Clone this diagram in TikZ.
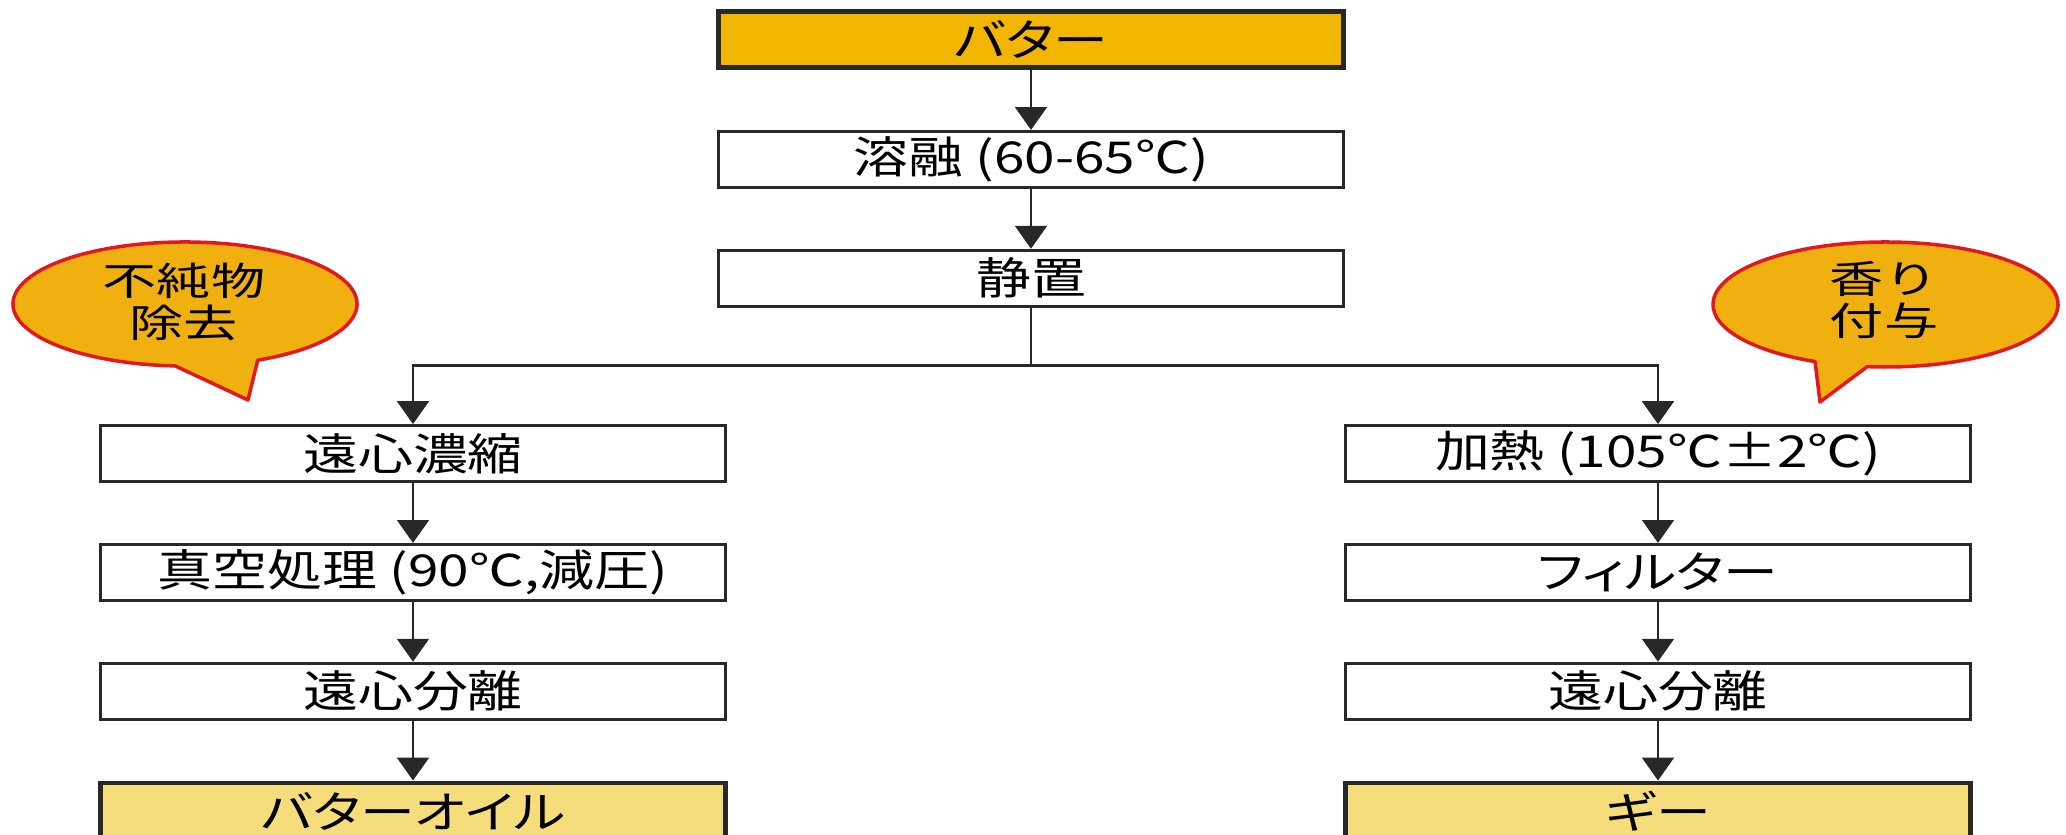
\documentclass[tikz,border=0pt]{standalone}
\usepackage{fontspec}
\setmainfont{Noto Sans CJK JP}
\newfontfamily\boxfont[FakeStretch=1.25, RawFeature=+palt]{Noto Sans CJK JP}
\newfontfamily\bubfont[FakeStretch=1.4]{Noto Sans CJK JP}
\usetikzlibrary{arrows.meta}
\usetikzlibrary{positioning}
\usetikzlibrary{chains}
\definecolor{buttergold}{RGB}{242,182,0}
\definecolor{oilyellow}{RGB}{244,221,122}
\definecolor{bubblefill}{RGB}{240,176,16}
\definecolor{bubbleedge}{RGB}{226,24,28}
\definecolor{linegray}{RGB}{40,40,40}
\tikzset{
	>={Triangle[width=9pt,length=6.5pt]},
	stepbox/.style={
		rectangle,
		draw=linegray, line width=0.8pt,
		minimum width=6.25cm,
		minimum height=0.56cm,
		inner sep=0pt,
		text centered,
		on chain},
	endbox/.style={
		stepbox,
		line width=1.4pt},
	every join/.style={->, draw=linegray, line width=0.8pt},
	arrowline/.style={->, draw=linegray, line width=0.8pt},
	bubble/.style={fill=bubblefill, draw=bubbleedge, line width=1pt, line join=round},
	bubtext/.style={align=center, font=\bubfont\fontsize{11}{12}\selectfont},
}

\begin{document}
\begin{tikzpicture}[node distance=.6cm, font=\boxfont\fontsize{12.5}{15}\selectfont]
	\useasboundingbox (0,0) rectangle (20.66,-8.35);
	% middle column
	\begin{scope}[start chain=going below]
		\node[endbox, fill=buttergold] (butter) at (10.31,-0.395) {バター};
		\node[stepbox, join] (melt) {溶融 (60-65℃)};
		\node[stepbox, join] (settle) {静置};
	\end{scope}
	% left column
	\begin{scope}[start chain=going below]
		\node[stepbox] (centrifA) at (4.13,-4.535) {遠心濃縮};
		\node[stepbox, join] (vacuum) {真空処理 (90℃,減圧)};
		\node[stepbox, join] (separA) {遠心分離};
		\node[endbox, fill=oilyellow, join] (oil) {バターオイル};
	\end{scope}
	% right column
	\begin{scope}[start chain=going below]
		\node[stepbox] (heat) at (16.58,-4.535) {加熱 (105℃±2℃)};
		\node[stepbox, join] (filter) {フィルター};
		\node[stepbox, join] (separB) {遠心分離};
		\node[endbox, fill=oilyellow, join] (ghee) {ギー};
	\end{scope}
	% branch
	\draw[linegray, line width=0.8pt] (settle.south) -- ++(0,-0.58) coordinate (split);
	\draw[arrowline] (split) -| (centrifA.north);
	\draw[arrowline] (split) -| (heat.north);
	% speech bubbles
	\draw[bubble] (1.85,-3.04) ++(295:1.72 and 0.62) arc[start angle=295, end angle=626.7, x radius=1.72, y radius=0.62] -- (2.48,-4.00) -- cycle;
	\node[bubtext] (purify) at (1.84,-3.02) {不純物\\除去};
	\draw[bubble] (18.855,-3.045) ++(263.9:1.725 and 0.625) arc[start angle=263.9, end angle=605.9, x radius=1.725, y radius=0.625] -- (18.20,-4.02) -- cycle;
	\node[bubtext] (aroma) at (18.84,-3.0) {香り\\付与};
\end{tikzpicture}
\end{document}
